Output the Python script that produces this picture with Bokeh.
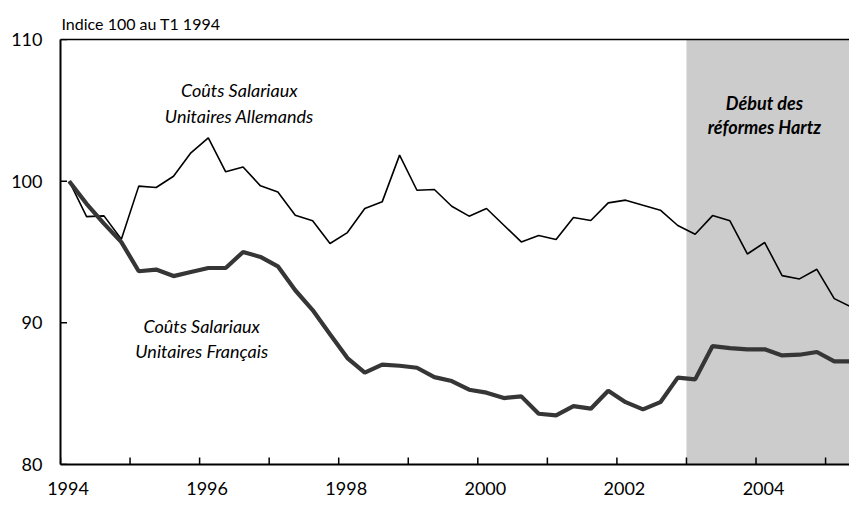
from bokeh.plotting import figure
from bokeh.models import (Range1d, FixedTicker, LinearAxis, BoxAnnotation, Label,
                          ColumnDataSource)
from bokeh.embed import file_html
from bokeh.resources import INLINE

# ---- data (quarterly, 1994 T1 .. 2005 T2, index 100 at T1 1994) ----
years = [1994 + i // 4 for i in range(46)]
quarters = [i % 4 + 1 for i in range(46)]

german = [100.0, 97.5, 97.55, 95.9, 99.65, 99.55, 100.35, 102.0, 103.06, 100.66,
          101.0, 99.67, 99.24, 97.6, 97.2, 95.6, 96.37, 98.07, 98.54, 101.84,
          99.36, 99.41, 98.23, 97.53, 98.07, 96.89, 95.71, 96.16, 95.88, 97.43,
          97.22, 98.47, 98.66, 98.3, 97.95, 96.87, 96.25, 97.57, 97.2, 94.86,
          95.67, 93.33, 93.1, 93.78, 91.71, 91.1]

french = [100.0, 98.4, 97.0, 95.7, 93.64, 93.76, 93.3, 93.59, 93.87, 93.87,
          95.0, 94.65, 93.99, 92.3, 90.9, 89.19, 87.51, 86.48, 87.05, 86.97,
          86.83, 86.17, 85.89, 85.28, 85.07, 84.69, 84.81, 83.58, 83.47, 84.12,
          83.94, 85.21, 84.4, 83.89, 84.4, 86.13, 86.01, 88.36, 88.22, 88.13,
          88.13, 87.7, 87.75, 87.94, 87.28, 87.28]

year_ticks = list(range(1994, 2006))
label_years = [1994, 1996, 1998, 2000, 2002, 2004]
y_ticks = [80, 90, 100, 110]
reform_start = 2003

x = [y + (q - 0.5) / 4 for y, q in zip(years, quarters)]
src = ColumnDataSource(dict(x=x, de=german, fr=french))

FONT = "Lato"
Y0, X0 = 80, 1994  # axis origins

p = figure(width=849, height=498, output_backend="svg", toolbar_location=None,
           x_range=Range1d(1994, 2005.344), y_range=Range1d(80, 110),
           min_border_left=60, min_border_right=0, min_border_top=39,
           min_border_bottom=34, x_axis_type=None, y_axis_type=None,
           title="Indice 100 au T1 1994")
p.outline_line_color = None
p.background_fill_color = "white"
p.border_fill_color = "white"
p.xgrid.visible = False
p.ygrid.visible = False
p.title.align = "left"
p.title.text_font = FONT
p.title.text_font_size = "16px"
p.title.text_font_style = "normal"
p.title.text_color = "black"
p.title.offset = 1
p.title.standoff = 14

# shaded reform period
p.add_layout(BoxAnnotation(left=reform_start, fill_color="#cccccc", fill_alpha=1.0,
                           line_color=None, level="underlay"))

# x axis line; labels centred on the first quarter of each labelled year
label_pos = [yr + 0.108 for yr in label_years]
xa = LinearAxis(ticker=FixedTicker(ticks=label_pos),
                major_label_overrides={pos: str(yr) for pos, yr in zip(label_pos, label_years)})
xa.major_tick_in = 0
xa.major_tick_out = 0
xa.major_tick_line_color = None
xa.minor_tick_line_color = None
xa.axis_line_width = 2
xa.axis_line_color = "black"
xa.major_label_standoff = 17
xa.major_label_text_font = FONT
xa.major_label_text_font_size = "18px"
xa.major_label_text_color = "black"
p.add_layout(xa, "below")

ya = LinearAxis(ticker=FixedTicker(ticks=y_ticks))
ya.major_tick_in = 0
ya.major_tick_out = 0
ya.major_tick_line_color = None
ya.minor_tick_line_color = None
ya.axis_line_width = 2
ya.major_label_standoff = 18
ya.major_label_text_font = FONT
ya.major_label_text_font_size = "18px"
ya.major_label_text_color = "black"
p.add_layout(ya, "left")

ta = LinearAxis(ticker=FixedTicker(ticks=[]))
ta.major_tick_in = 0
ta.major_tick_out = 0
ta.major_tick_line_color = None
ta.minor_tick_line_color = None
ta.axis_line_width = 1.3
ta.major_label_text_font_size = "0px"
p.add_layout(ta, "above")

# inward tick marks (half of each dash is clipped by the frame edge)
p.scatter(x=year_ticks, y=[Y0] * len(year_ticks), marker="dash", size=14, angle=90,
          angle_units="deg", line_color="black", line_width=1.5)
p.scatter(x=[X0] * len(y_ticks), y=y_ticks, marker="dash", size=13,
          line_color="black", line_width=1.5)

# series
p.line("x", "de", source=src, line_color="black", line_width=1.6)
p.line("x", "fr", source=src, line_color="#363636", line_width=4.2)

def two_lines(xc, y1, y2, l1, l2, style):
    for yy, tt in ((y1, l1), (y2, l2)):
        p.add_layout(Label(x=xc, y=yy, text=tt, text_align="center",
                           text_baseline="middle", text_font=FONT,
                           text_font_size="18px", text_font_style=style,
                           text_color="black"))

two_lines(1996.57, 106.47, 104.57, "Coûts Salariaux", "Unitaires Allemands", "italic")
two_lines(1996.03, 89.75, 87.98, "Coûts Salariaux", "Unitaires Français", "italic")
two_lines(2004.12, 105.55, 103.79, "Début des", "réformes Hartz", "bold italic")

open("out.html", "w").write(file_html(p, INLINE))
